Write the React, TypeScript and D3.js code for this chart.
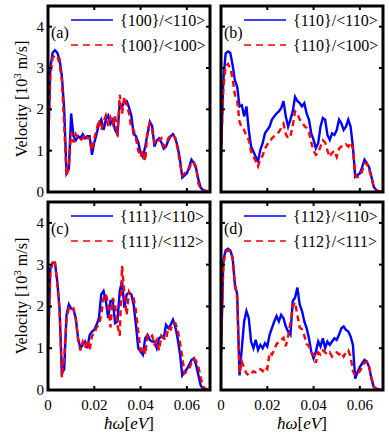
import * as d3 from 'd3';

// energy grid, 1 meV steps from 0 to 0.069 eV
const energy = d3.range(70).map(i => i / 1000);

// (a) {100}
const aBlue = [1.0, 3.0, 3.37, 3.43, 3.37, 3.2, 2.8, 2.0, 0.45, 0.55, 1.9, 1.35, 1.25, 1.35, 1.3, 1.4, 1.3, 1.35, 1.35, 0.9, 1.2, 1.4, 1.65, 1.75, 1.5, 1.75, 1.85, 1.65, 1.75, 1.5, 1.4, 2.15, 2.05, 2.2, 2.2, 2.05, 1.85, 1.4, 1.35, 1.2, 0.95, 0.85, 1.1, 1.4, 1.7, 1.6, 1.1, 1.25, 1.3, 1.2, 1.05, 1.1, 1.25, 1.35, 1.4, 1.3, 1.1, 0.8, 0.35, 0.4, 0.45, 0.6, 0.78, 0.7, 0.57, 0.3, 0.1, 0.05, 0.03, 0.02];
const aRed = [1.0, 2.8, 3.25, 3.3, 3.3, 3.1, 2.7, 1.6, 0.4, 0.6, 1.45, 1.2, 1.4, 1.3, 1.25, 1.3, 1.4, 1.3, 1.3, 1.0, 1.3, 1.5, 1.75, 1.5, 1.7, 1.85, 1.6, 1.8, 1.65, 1.85, 1.35, 2.35, 1.9, 2.3, 2.1, 1.9, 1.55, 1.5, 1.3, 1.0, 0.85, 1.0, 0.75, 1.5, 1.65, 1.5, 1.2, 1.3, 1.25, 1.3, 1.1, 1.15, 1.3, 1.38, 1.38, 1.3, 1.05, 0.7, 0.4, 0.45, 0.5, 0.55, 0.72, 0.72, 0.6, 0.2, 0.08, 0.04, 0.02, 0.01];

// (b) {110}
const bBlue = [0.95, 2.7, 3.35, 3.4, 3.37, 3.08, 2.7, 2.55, 2.07, 2.1, 1.83, 2.07, 1.5, 1.1, 0.98, 0.85, 0.74, 1.02, 1.18, 1.42, 1.5, 1.58, 1.75, 1.83, 1.9, 1.95, 2.03, 2.2, 1.83, 1.58, 1.75, 1.95, 2.3, 2.2, 2.15, 2.07, 2.15, 1.9, 1.75, 1.42, 1.26, 1.06, 1.18, 1.58, 1.79, 1.75, 1.38, 1.26, 1.42, 1.38, 1.5, 1.75, 1.66, 1.5, 1.58, 1.75, 1.58, 1.1, 0.37, 0.41, 0.45, 0.6, 0.78, 0.7, 0.6, 0.37, 0.13, 0.05, 0.02, 0.01];
const bRed = [0.9, 2.5, 3.05, 3.1, 3.0, 2.75, 2.35, 2.2, 1.7, 1.55, 1.5, 1.35, 1.26, 0.98, 0.85, 0.75, 0.62, 0.8, 0.88, 1.05, 1.15, 1.2, 1.3, 1.35, 1.4, 1.45, 1.55, 1.65, 1.4, 1.3, 1.35, 1.6, 1.95, 1.9, 1.75, 1.7, 1.6, 1.55, 1.45, 1.2, 1.0, 0.9, 0.95, 1.1, 1.25, 1.2, 1.0, 0.85, 0.95, 1.0, 0.85, 1.05, 1.1, 1.1, 1.15, 1.1, 1.2, 1.05, 0.4, 0.36, 0.38, 0.5, 0.7, 0.68, 0.55, 0.35, 0.12, 0.05, 0.02, 0.01];

// (c) {111}
const cBlue = [1.0, 2.9, 3.05, 3.05, 2.6, 1.95, 0.4, 0.5, 1.8, 2.05, 1.95, 1.93, 1.72, 1.24, 1.0, 1.08, 1.16, 1.0, 1.32, 1.4, 1.44, 1.56, 1.72, 2.29, 2.37, 2.13, 1.72, 2.13, 2.13, 1.6, 1.64, 2.37, 2.6, 1.97, 2.29, 2.33, 2.29, 2.05, 1.56, 1.0, 0.92, 0.84, 1.24, 1.32, 1.2, 1.16, 1.16, 1.0, 1.24, 1.28, 1.24, 1.56, 1.48, 1.56, 1.68, 1.52, 1.24, 0.88, 0.35, 0.43, 0.5, 0.6, 0.72, 0.76, 0.6, 0.35, 0.11, 0.03, 0.02, 0.01];
const cRed = [1.0, 2.8, 3.1, 3.05, 2.55, 1.9, 0.3, 0.8, 1.7, 1.95, 1.9, 1.95, 1.7, 1.2, 0.95, 1.15, 1.0, 1.2, 0.95, 1.3, 1.35, 1.5, 1.55, 1.8, 2.2, 2.3, 2.05, 1.5, 2.2, 2.05, 1.55, 1.3, 2.97, 2.3, 1.8, 2.35, 2.25, 2.2, 1.9, 1.4, 0.95, 1.05, 0.85, 1.3, 1.25, 1.3, 1.1, 1.2, 0.95, 1.3, 1.25, 1.2, 1.5, 1.45, 1.6, 1.6, 1.45, 1.15, 0.8, 0.4, 0.45, 0.5, 0.65, 0.75, 0.7, 0.55, 0.3, 0.08, 0.03, 0.01];

// (d) {112}
const dBlue = [0.9, 3.1, 3.34, 3.38, 3.34, 3.18, 2.53, 2.29, 0.35, 1.0, 1.64, 1.89, 1.72, 1.16, 1.0, 1.2, 0.96, 1.08, 1.0, 1.12, 1.04, 1.32, 1.48, 1.64, 1.77, 1.64, 1.8, 1.72, 1.52, 1.4, 1.32, 2.13, 2.21, 2.45, 2.05, 1.89, 1.64, 1.48, 1.24, 0.92, 0.76, 0.92, 1.16, 1.04, 1.24, 1.0, 1.16, 1.08, 1.16, 1.24, 1.2, 1.32, 1.48, 1.52, 1.44, 1.4, 1.28, 1.08, 0.27, 0.43, 0.55, 0.64, 0.72, 0.68, 0.55, 0.27, 0.07, 0.03, 0.02, 0.01];
const dRed = [0.9, 3.0, 3.3, 3.35, 3.3, 3.15, 2.5, 2.2, 0.4, 0.68, 0.52, 0.4, 0.35, 0.38, 0.45, 0.42, 0.45, 0.5, 0.45, 0.55, 0.5, 0.9, 0.85, 0.95, 1.1, 1.15, 1.2, 1.25, 1.05, 1.3, 1.6, 2.0, 2.1, 1.8, 1.5, 1.45, 1.3, 1.1, 1.05, 0.9, 0.85, 0.65, 0.9, 0.85, 0.95, 0.9, 0.85, 0.9, 0.8, 0.85, 0.9, 0.85, 0.9, 0.8, 0.9, 0.95, 0.8, 0.45, 0.35, 0.4, 0.45, 0.55, 0.65, 0.68, 0.55, 0.3, 0.08, 0.03, 0.02, 0.01];

const xTicks = [0, 0.02, 0.04, 0.06];
const xTickLabels = ['0', '0.02', '0.04', '0.06'];
const yTicks = [0, 1, 2, 3, 4];

const panels = [
  { id: 'a', tag: '(a)', blue: aBlue, red: aRed, blueName: '{100}/<110>', redName: '{100}/<100>', left: 48, top: 6, bottom: 192, showY: true, showX: false },
  { id: 'b', tag: '(b)', blue: bBlue, red: bRed, blueName: '{110}/<110>', redName: '{110}/<100>', left: 221, top: 6, bottom: 192, showY: false, showX: false },
  { id: 'c', tag: '(c)', blue: cBlue, red: cRed, blueName: '{111}/<110>', redName: '{111}/<112>', left: 48, top: 202, bottom: 390, showY: true, showX: true },
  { id: 'd', tag: '(d)', blue: dBlue, red: dRed, blueName: '{112}/<110>', redName: '{112}/<111>', left: 221, top: 202, bottom: 390, showY: false, showX: true },
];

const FONT = 'Liberation Serif';
const PANEL_W = 162;

function Panel({ p }: { p: typeof panels[number] }) {
  const x = d3.scaleLinear().domain([0, 0.07]).range([p.left, p.left + PANEL_W]);
  const y = d3.scaleLinear().domain([0, 4.5]).range([p.bottom, p.top]);

  const line = d3.line<number>()
    .x((_, i) => x(energy[i]))
    .y(d => y(d));

  const right = p.left + PANEL_W;
  const tickLen = 4;

  return (
    <g>
      <defs>
        <clipPath id={`clip-${p.id}`}>
          <rect x={p.left} y={p.top} width={PANEL_W} height={p.bottom - p.top} />
        </clipPath>
      </defs>

      <g clipPath={`url(#clip-${p.id})`}>
        <path d={line(p.blue) || ''} fill="none" stroke="#0000ff" strokeWidth={2.4} />
        <path d={line(p.red) || ''} fill="none" stroke="#ff0000" strokeWidth={2.4} strokeDasharray="6,4" />
      </g>

      {/* ticks on all four sides, pointing in */}
      {xTicks.slice(1).map(t => (
        <g key={`xt${t}`}>
          <line x1={x(t)} x2={x(t)} y1={p.bottom} y2={p.bottom - tickLen} stroke="black" strokeWidth={2} />
          <line x1={x(t)} x2={x(t)} y1={p.top} y2={p.top + tickLen} stroke="black" strokeWidth={2} />
        </g>
      ))}
      {yTicks.slice(1).map(t => (
        <g key={`yt${t}`}>
          <line x1={p.left} x2={p.left + tickLen} y1={y(t)} y2={y(t)} stroke="black" strokeWidth={2} />
          <line x1={right} x2={right - tickLen} y1={y(t)} y2={y(t)} stroke="black" strokeWidth={2} />
        </g>
      ))}

      <rect x={p.left} y={p.top} width={PANEL_W} height={p.bottom - p.top} fill="none" stroke="black" strokeWidth={3} />

      {/* legend */}
      <line x1={p.left + 23} x2={p.left + 65} y1={p.top + 14} y2={p.top + 14} stroke="#0000ff" strokeWidth={1.5} />
      <text x={p.left + 72} y={p.top + 20} fontSize={16} fontFamily={FONT}>{p.blueName}</text>
      <line x1={p.left + 23} x2={p.left + 65} y1={p.top + 39} y2={p.top + 39} stroke="#ff0000" strokeWidth={1.5} strokeDasharray="7,5" />
      <text x={p.left + 72} y={p.top + 45} fontSize={16} fontFamily={FONT}>{p.redName}</text>

      <text x={p.left + 3} y={p.top + 32} fontSize={16} fontFamily={FONT}>{p.tag}</text>

      {p.showY && yTicks.map(t => (
        <text key={`yl${t}`} x={p.left - 4} y={y(t) + 5} fontSize={15} fontFamily={FONT} textAnchor="end">{t}</text>
      ))}
      {p.showY && (
        <text
          transform={`translate(27,${(p.top + p.bottom) / 2}) rotate(-90)`}
          fontSize={16}
          fontFamily={FONT}
          textAnchor="middle"
        >
          Velocity [10<tspan dy={-6} fontSize={11}>3</tspan><tspan dy={6}> m/s]</tspan>
        </text>
      )}

      {p.showX && xTicks.map((t, i) => (
        <text key={`xl${t}`} x={x(t)} y={p.bottom + 20} fontSize={15} fontFamily={FONT} textAnchor="middle">{xTickLabels[i]}</text>
      ))}
      {p.showX && (
        <text x={p.left + PANEL_W / 2} y={p.bottom + 39} fontSize={17} fontFamily={FONT} textAnchor="middle">
          <tspan fontStyle="italic">ħω</tspan>[<tspan fontStyle="italic">eV</tspan>]
        </text>
      )}
    </g>
  );
}

export default function App() {
  return (
    <svg
      width={389}
      height={444}
      style={{ position: 'absolute', left: 0, top: 0, background: 'white' }}
    >
      {panels.map(p => <Panel key={p.id} p={p} />)}
    </svg>
  );
}
